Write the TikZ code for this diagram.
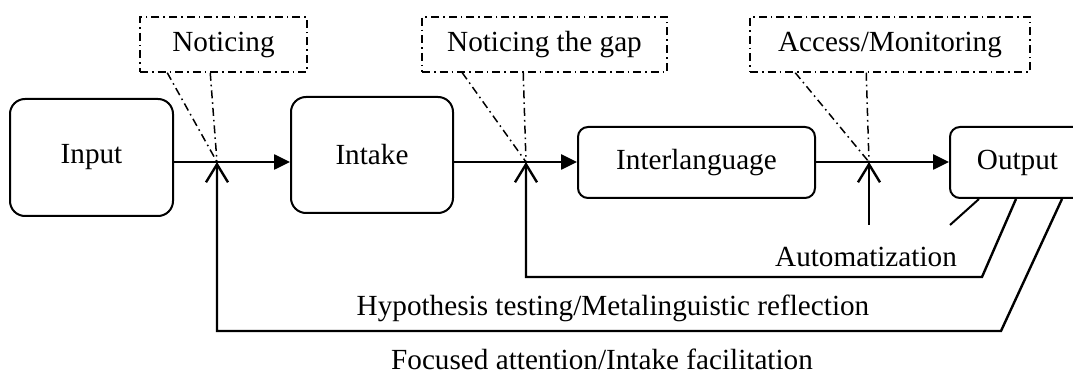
\documentclass[tikz,border=0pt]{standalone}
\usepackage{fontspec}
\setmainfont{Liberation Serif}
\usetikzlibrary{arrows.meta,calc}

\begin{document}
\begin{tikzpicture}[x=0.5pt,y=-0.5pt,
  font=\fontsize{14.6}{17}\selectfont,
  stage/.style={draw,line width=1pt,rounded corners=7.5pt,inner sep=0pt},
  smallstage/.style={stage,rounded corners=5pt},
  remark/.style={draw,line width=0.75pt,inner sep=0pt,
    dash pattern=on 4pt off 2pt on 0.8pt off 2pt},
  pointer/.style={line width=0.75pt,dash pattern=on 4pt off 2pt on 0.8pt off 2pt},
  flow/.style={line width=1.3pt,-{Triangle[length=8pt,width=7.5pt]}},
  feedback/.style={line width=1.2pt,-{Straight Barb[length=9pt,width=11pt,line width=1.2pt]}},
  plain/.style={line width=1pt}]
\useasboundingbox (0,0) rectangle (1073,374);
\clip (0,0) rectangle (1073,374);

% processing stages
\node[stage,minimum width=81.5pt,minimum height=58.5pt] (in) at (91.5,157.5) {Input};
\node[stage,minimum width=81pt,minimum height=58pt] (intake) at (372,155) {Intake};
\node[smallstage,minimum width=118.5pt,minimum height=35.5pt] (il) at (696.5,162.5) {Interlanguage};
\node[smallstage,minimum width=67.5pt,minimum height=35.5pt] (out) at (1017.5,162.5) {Output};

% cognitive processes
\node[remark,minimum width=83.5pt,minimum height=27.5pt] (n1) at (223.5,44.5) {Noticing};
\node[remark,minimum width=122.5pt,minimum height=27.5pt] (n2) at (544.5,44.5) {Noticing the gap};
\node[remark,minimum width=140pt,minimum height=27.5pt] (n3) at (890,44.5) {Access/Monitoring};

% junctions on the main line
\coordinate (j1) at (217,162);
\coordinate (j2) at (526,162);
\coordinate (j3) at (869,162);

% main flow
\draw[flow] (in.east |- j1) -- (intake.west |- j1);
\draw[flow] (intake.east |- j1) -- (il.west |- j1);
\draw[flow] (il.east |- j1) -- (out.west |- j1);

% callout pointers
\draw[pointer] (n1.south west) ++(28,0) -- (j1);
\draw[pointer] (n1.south west) ++(71,0) -- (j1);
\draw[pointer] (n2.south west) ++(41,0) -- (j2);
\draw[pointer] (n2.south west) ++(102,0) -- (j2);
\draw[pointer] (n3.south west) ++(46,0) -- (j3);
\draw[pointer] (n3.south west) ++(117,0) -- (j3);

% feedback loops from output
\coordinate (oa) at ($(out.south west)+(30,0)$);
\coordinate (ob) at ($(out.south west)+(67,0)$);
\coordinate (oc) at ($(out.south west)+(113,0)$);
\coordinate (auto) at (869,225);
\coordinate (autoend) at (950,225);
\coordinate (hb) at (982,277);
\coordinate (fb) at (1001,331);

\draw[plain] (oa) -- (autoend);
\draw[feedback] (auto) -- (j3);
\draw[feedback] (ob) -- (hb) -- (hb -| j2) -- (j2);
\draw[feedback] (oc) -- (fb) -- (fb -| j1) -- (j1);

% loop labels
\node[anchor=base,inner sep=0pt] (lauto) at (866,267) {Automatization};
\node[anchor=base,inner sep=0pt] (lhyp) at (613,315) {Hypothesis testing/Metalinguistic reflection};
\node[anchor=base,inner sep=0pt] (lfoc) at (602,370) {Focused attention/Intake facilitation};
\end{tikzpicture}
\end{document}
